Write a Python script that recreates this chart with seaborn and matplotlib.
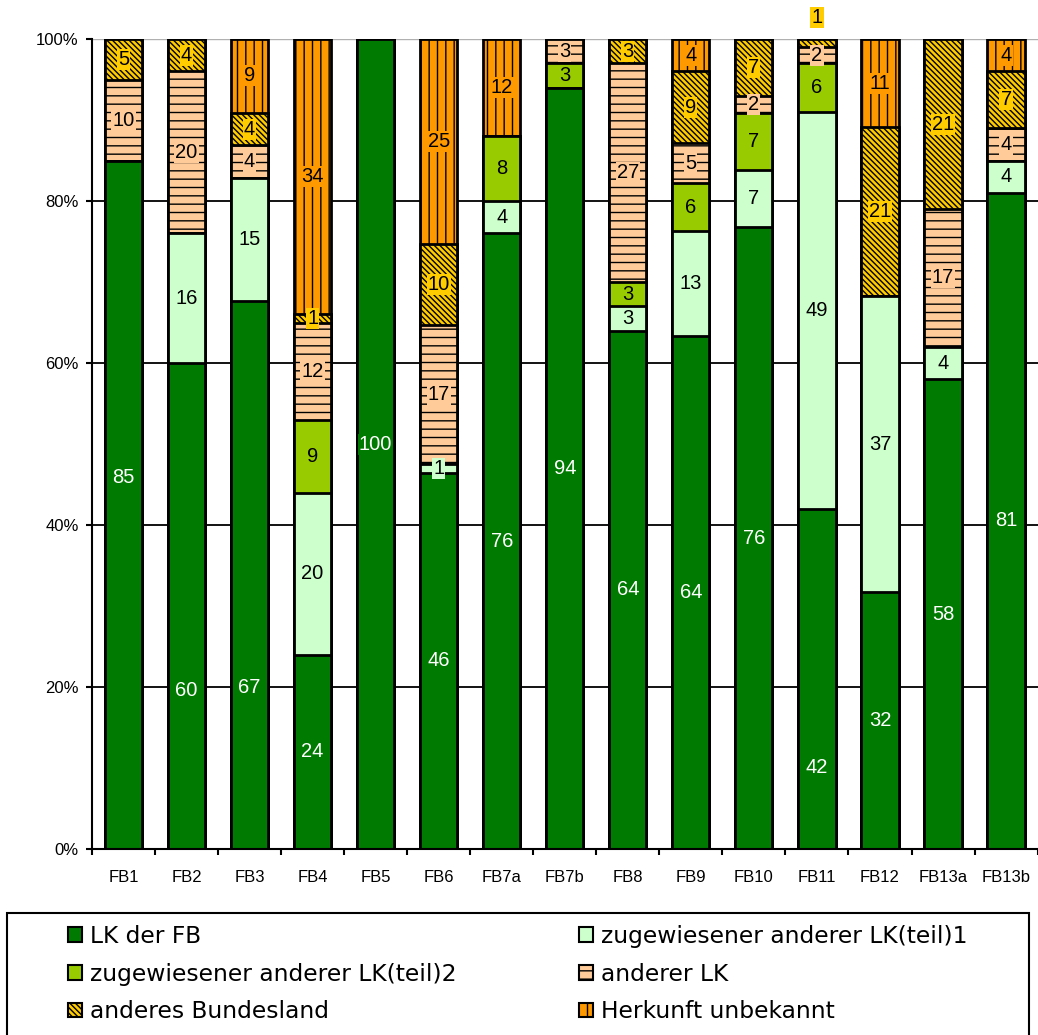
import numpy as np
import pandas as pd
import matplotlib
matplotlib.use("Agg")
import matplotlib.pyplot as plt
import seaborn as sns
from matplotlib.patches import Patch, Rectangle

categories = ['FB1', 'FB2', 'FB3', 'FB4', 'FB5', 'FB6', 'FB7a', 'FB7b', 'FB8',
              'FB9', 'FB10', 'FB11', 'FB12', 'FB13a', 'FB13b']
series = ['LK der FB', 'zugewiesener anderer LK(teil)1', 'zugewiesener anderer LK(teil)2',
          'anderer LK', 'anderes Bundesland', 'Herkunft unbekannt']

lk_fb     = [85, 60, 67, 24, 100, 46, 76, 94, 64, 64, 76, 42, 32, 58, 81]
teil1     = [0, 16, 15, 20, 0, 1, 4, 0, 3, 13, 7, 49, 37, 4, 4]
teil2     = [0, 0, 0, 9, 0, 0, 8, 3, 3, 6, 7, 6, 0, 0, 0]
anderer   = [10, 20, 4, 12, 0, 17, 0, 3, 27, 5, 2, 2, 0, 17, 4]
bundesl   = [5, 4, 4, 1, 0, 10, 0, 0, 3, 9, 7, 1, 21, 21, 7]
unbekannt = [0, 0, 9, 34, 0, 25, 12, 0, 0, 4, 0, 0, 11, 0, 4]

colors = ['#007A00', '#CCFFCC', '#99CC00', '#FFCC99', '#FFCC00', '#FF9900']
hatches = ['', '', '', '--', '\\' * 6, '||']
text_colors = ['white', 'black', 'black', 'black', 'black', 'black']

# labels that were moved by hand in the original (category, series) -> y in %
label_y = {('FB1', 0): 45.9, ('FB2', 0): 19.6, ('FB3', 0): 20.0,
           ('FB11', 0): 10.1, ('FB11', 4): 102.6}

vals = np.array([lk_fb, teil1, teil2, anderer, bundesl, unbekannt], dtype=float)
pct = vals / vals.sum(axis=0) * 100
cum = np.cumsum(pct, axis=0)

plt.rcParams['font.family'] = ['Liberation Sans', 'DejaVu Sans']
plt.rcParams['hatch.color'] = '#333333'
plt.rcParams['hatch.linewidth'] = 1.0

fig = plt.figure(figsize=(10.38, 10.35), dpi=100)
ax = fig.add_axes([0.0886, 0.1797, 0.911, 0.7826])

# draw cumulative bars from the top layer down so lower layers cover upper ones
for i in range(len(series) - 1, -1, -1):
    df = pd.DataFrame({'FB': categories, 'top': cum[i]})
    sns.barplot(data=df, x='FB', y='top', color=colors[i], ax=ax, width=0.59,
                edgecolor='black', linewidth=2, hatch=hatches[i], saturation=1,
                zorder=3)

# value labels
for i in range(len(series)):
    for j in range(len(categories)):
        v = vals[i, j]
        if v == 0:
            continue
        y = label_y.get((categories[j], i), cum[i, j] - pct[i, j] / 2)
        ax.text(j, y, f'{int(v)}', ha='center', va='center', fontsize=14.5,
                color=text_colors[i], zorder=5, clip_on=False,
                bbox=dict(boxstyle='square,pad=0.05', facecolor=colors[i], edgecolor='none'))

ax.set_ylim(0, 100)
ax.set_xlim(-0.5, len(categories) - 0.5)
ax.set_yticks([0, 20, 40, 60, 80, 100])
ax.set_yticklabels(['0%', '20%', '40%', '60%', '80%', '100%'], fontsize=12)
for yv in [20, 40, 60, 80]:
    ax.axhline(yv, color='black', linewidth=1.3, zorder=1)
ax.axhline(100, color='#b0b0b0', linewidth=1, zorder=1)
ax.set_xlabel('')
ax.set_ylabel('')
ax.tick_params(axis='x', which='major', length=0, labelsize=12, pad=15)
ax.set_xticks(np.arange(-0.5, len(categories), 1), minor=True)
ax.tick_params(axis='x', which='minor', length=4.5, width=1.5)
ax.tick_params(axis='y', length=4.5, width=1.5, pad=5)
for s in ['top', 'right']:
    ax.spines[s].set_visible(False)
for s in ['left', 'bottom']:
    ax.spines[s].set_linewidth(1.5)
    ax.spines[s].set_zorder(4)

# legend: frame plus two columns
handles = [Patch(facecolor=colors[i], edgecolor='black', hatch=hatches[i], linewidth=1.5,
                 label=series[i]) for i in range(len(series))]
fig.patches.append(Rectangle((0.0067, -0.01), 0.9846, 0.128, transform=fig.transFigure,
                             fill=False, edgecolor='black', linewidth=1.5))
leg_kw = dict(loc='upper left', frameon=False, handlelength=0.6,
              handleheight=0.6, handletextpad=0.35, labelspacing=0.63,
              borderpad=0, borderaxespad=0, prop={'family': 'DejaVu Sans', 'size': 16.8})
fig.legend([handles[k] for k in [0, 2, 4]], [series[k] for k in [0, 2, 4]],
           bbox_to_anchor=(0.0655, 0.1064), **leg_kw)
fig.legend([handles[k] for k in [1, 3, 5]], [series[k] for k in [1, 3, 5]],
           bbox_to_anchor=(0.5578, 0.1064), **leg_kw)

fig.savefig('out.png', dpi=100)
